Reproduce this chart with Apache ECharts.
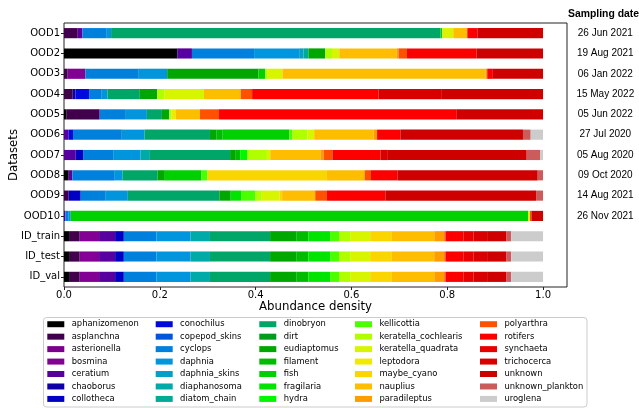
<!DOCTYPE html>
<html>
<head>
<meta charset="utf-8">
<script src="https://cdn.jsdelivr.net/npm/echarts@6/dist/echarts.min.js"></script>
<style>
  html, body { margin: 0; padding: 0; background: #fff; }
  #chart { width: 639px; height: 408px; }
</style>
</head>
<body>
<div id="chart"></div>
<script>
// Plankton classes, in legend order
const classes = [
  'aphanizomenon', 'asplanchna', 'asterionella', 'bosmina', 'ceratium', 'chaoborus', 'collotheca',
  'conochilus', 'copepod_skins', 'cyclops', 'daphnia', 'daphnia_skins', 'diaphanosoma', 'diatom_chain',
  'dinobryon', 'dirt', 'eudiaptomus', 'filament', 'fish', 'fragilaria', 'hydra',
  'kellicottia', 'keratella_cochlearis', 'keratella_quadrata', 'leptodora', 'maybe_cyano', 'nauplius', 'paradileptus',
  'polyarthra', 'rotifers', 'synchaeta', 'trichocerca', 'unknown', 'unknown_plankton', 'uroglena'
];

const datasetNames = ['OOD1', 'OOD2', 'OOD3', 'OOD4', 'OOD5', 'OOD6', 'OOD7', 'OOD8', 'OOD9', 'OOD10', 'ID_train', 'ID_test', 'ID_val'];
const samplingDates = ['26 Jun 2021', '19 Aug 2021', '06 Jan 2022', '15 May 2022', '05 Jun 2022', '27 Jul 2020', '05 Aug 2020', '09 Oct 2020', '14 Aug 2021', '26 Nov 2021', '', '', ''];

const xTicks = [0, 0.2, 0.4, 0.6, 0.8, 1.0];

// Abundance density per class (same order as `classes`)
const ood1 = [
  0, .0287, 0, 0, .0098,   0, 0, 0, 0, .0508,   .009, 0, 0, 0, .6877,
  0, 0, 0, .0036, 0,       0, 0, 0, .023, 0,    0, .0293, 0, 0, .0209,
  0, 0, .1372, 0, 0
];
const ood2 = [
  .2364, 0, 0, 0, .0307,   0, 0, 0, 0, .1297,   .0941, .009, 0, .0105, 0,
  0, .035, 0, 0, 0,        0, 0, .014, .0153, 0, 0, .1201, .0035, .0176, .145,
  0, 0, .1391, 0, 0
];
const ood3 = [
  0, .0077, 0, .037, 0,    0, 0, 0, 0, .11,     .0607, 0, 0, 0, 0,
  0, .1904, 0, .014, 0,    0, 0, .0056, .0305, 0, 0, .4241, .0035, 0, .0117,
  0, 0, .1048, 0, 0
];
const ood4 = [
  0, .0182, 0, 0, 0,       .0056, 0, .0285, 0, .0265, .0119, 0, 0, 0, .0676,
  0, .0362, 0, 0, 0,       0, 0, .0155, .0822, 0, 0, .0768, 0, .0237, .2636,
  0, .1325, .2112, 0, 0
];
const ood5 = [
  .0056, .0676, 0, 0, .0015, 0, 0, 0, 0, .0544, .0439, 0, 0, 0, .0314,
  0, .0153, 0, 0, 0,       0, 0, .005, 0, .009,  0, .0502, 0, .0397, .4952,
  0, 0, .1812, 0, 0
];
const ood6 = [
  0, 0, 0, 0, .0098,       0, 0, .009, 0, .1019, .0474, 0, 0, 0, .1366,
  0, .014, .0126, .1393, 0, 0, .0063, .0314, .014, 0, 0, .1241, .0071, 0, .0487,
  0, 0, .2559, .0161, .0258
];
const ood7 = [
  0, 0, 0, 0, .0245,       0, .0153, 0, 0, .0628, .0572, 0, .0195, 0, .1674,
  0, .0105, .0105, 0, 0,   .0153, 0, .0406, .007, 0, 0, .1046, .007, .0182, .1004,
  0, .0153, .2898, .0278, .0063
];
const ood8 = [
  .0098, 0, 0, 0, .0077,   0, 0, 0, 0, .0885,   .016, 0, 0, 0, .0732,
  0, .0153, 0, .0767, 0,   0, .0126, 0, 0, 0,   .249, .0787, 0, .0134, .0557,
  0, 0, .2923, .0111, 0
];
const ood9 = [
  0, .0098, 0, 0, 0,       0, .0251, 0, 0, .0523, .046, 0, 0, 0, .1911,
  0, .0237, 0, 0, .0216,   0, .03, .0133, .0369, 0, .0056, .069, 0, .0244, .122,
  0, 0, .3146, .0146, 0
];
const ood10 = [
  0, 0, 0, 0, .0028,       0, 0, 0, 0, .007,    .0042, 0, 0, 0, 0,
  0, 0, 0, .9552, 0,       0, 0, 0, 0, .0035,   0, 0, 0, .003, 0,
  0, 0, .0243, 0, 0
];
const idTrain = [
  .0105, .0223, 0, .0404, .0335, 0, .0182, 0, 0, .0683, .0711, 0, .0404, 0, .1255,
  0, .0556, .0244, 0, .0453, 0, .0188, .023, .0418, 0, .0453, .0885, .0209, .0028, .0377,
  .0209, .028, .0397, .0105, .0666
];
const idTest = [
  .0105, .0223, 0, .0404, .0335, 0, .0182, 0, 0, .0683, .0711, 0, .0404, 0, .1255,
  0, .0556, .0244, 0, .0453, 0, .0188, .023, .0418, 0, .0453, .0885, .0209, .0028, .0377,
  .0209, .028, .0397, .0105, .0666
];
const idVal = [
  .0105, .0223, 0, .0404, .0335, 0, .0182, 0, 0, .0683, .0711, 0, .0404, 0, .1255,
  0, .0556, .0244, 0, .0453, 0, .0188, .023, .0418, 0, .0453, .0885, .0209, .0028, .0377,
  .0209, .028, .0397, .0105, .0666
];

const rows = [ood1, ood2, ood3, ood4, ood5, ood6, ood7, ood8, ood9, ood10, idTrain, idTest, idVal];

// nipy_spectral colour map: control points every 0.05
const spR = [0, .4667, .5333, 0, 0, 0, 0, 0, 0, 0, 0, 0, 0, .7333, .9333, 1, 1, 1, .8667, .8, .8];
const spG = [0, 0, 0, 0, 0, .4667, .6, .6667, .6667, .6, .7333, .8667, 1, 1, .9333, .8, .6, 0, 0, 0, .8];
const spB = [0, .5333, .6, .6667, .8667, .8667, .8667, .6667, .5333, 0, 0, 0, 0, 0, 0, 0, 0, 0, 0, 0, .8];

function spectral(x) {
  const q = Math.min(255, Math.floor(x * 256)) / 255;
  const p = q * 20;
  const i = Math.min(19, Math.floor(p));
  const t = p - i;
  const ch = arr => Math.round((arr[i] + (arr[i + 1] - arr[i]) * t) * 255);
  return 'rgb(' + ch(spR) + ',' + ch(spG) + ',' + ch(spB) + ')';
}
const colors = classes.map((c, i) => spectral(i / (classes.length - 1)));

const FONT = 'DejaVu Sans';

const series = classes.map((name, i) => ({
  name: name,
  type: 'bar',
  stack: 'total',
  barWidth: '50%',
  data: rows.map(r => r[i]),
  itemStyle: { color: colors[i] },
  emphasis: { disabled: true }
}));

// Legend: five columns of seven entries
const legendLefts = [47.3, 155.7, 259.3, 355, 480];
const legends = legendLefts.map((left, col) => ({
  orient: 'vertical',
  left: left,
  top: 318,
  padding: 0,
  itemGap: 0,
  itemWidth: 17,
  itemHeight: 6,
  icon: 'rect',
  selectedMode: false,
  data: classes.slice(col * 7, col * 7 + 7),
  textStyle: {
    fontFamily: FONT,
    fontSize: 8.4,
    lineHeight: 12.45,
    color: '#000',
    padding: [0, 0, 0, 2.4]
  }
}));

const chart = echarts.init(document.getElementById('chart'), null, { renderer: 'canvas' });
chart.setOption({
  animation: false,
  backgroundColor: '#fff',
  title: {
    text: 'Sampling date',
    left: 603.5,
    top: 14.3,
    padding: 0,
    textAlign: 'center',
    textVerticalAlign: 'middle',
    textStyle: { fontFamily: 'Liberation Sans', fontSize: 10.4, fontWeight: 'bold', color: '#000' }
  },
  graphic: [{
    type: 'rect',
    z: 0,
    shape: { x: 43.5, y: 317.5, width: 543.5, height: 89.5, r: 3 },
    style: { fill: 'rgba(255,255,255,0.8)', stroke: '#cccccc', lineWidth: 1 }
  }],
  legend: legends,
  grid: {
    left: 64, right: 72, top: 23, bottom: 121,
    outerBoundsMode: 'none',
    containLabel: false,
    show: true, borderColor: '#222', borderWidth: 1
  },
  xAxis: {
    type: 'value',
    min: 0,
    max: 1.05,
    axisLine: { show: false },
    splitLine: { show: false },
    axisTick: { show: true, length: 3, customValues: xTicks, lineStyle: { color: '#222' } },
    axisLabel: {
      customValues: xTicks,
      formatter: v => v.toFixed(1),
      margin: 3,
      fontFamily: FONT, fontSize: 10, color: '#000'
    },
    name: 'Abundance density',
    nameLocation: 'middle',
    nameGap: 13.5,
    nameMoveOverlap: false,
    nameTextStyle: { fontFamily: FONT, fontSize: 11.75, color: '#000' }
  },
  yAxis: [{
    type: 'category',
    data: datasetNames,
    inverse: true,
    axisLine: { show: false },
    axisTick: { show: true, alignWithLabel: true, length: 3, lineStyle: { color: '#222' } },
    axisLabel: { margin: 4, fontFamily: FONT, fontSize: 10, color: '#000' },
    name: 'Datasets',
    nameLocation: 'middle',
    nameGap: 44,
    nameMoveOverlap: false,
    nameTextStyle: { fontFamily: FONT, fontSize: 11.75, color: '#000' }
  }, {
    type: 'category',
    data: samplingDates,
    inverse: true,
    position: 'right',
    axisLine: { show: false },
    axisTick: { show: false },
    axisLabel: { margin: 38.3, align: 'center', fontFamily: 'Liberation Sans', fontSize: 10, color: '#000' }
  }],
  series: series
});
</script>
</body>
</html>
